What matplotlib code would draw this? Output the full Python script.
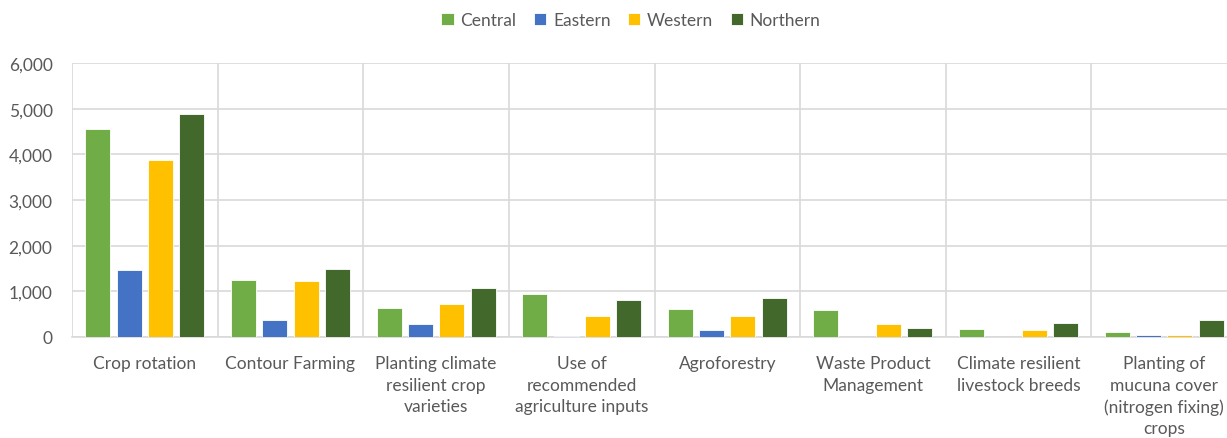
import numpy as np
import matplotlib.pyplot as plt
from matplotlib.ticker import FuncFormatter, MultipleLocator

# Data
categories = [
    "Crop rotation",
    "Contour Farming",
    "Planting climate\nresilient crop\nvarieties",
    "Use of\nrecommended\nagriculture inputs",
    "Agroforestry",
    "Waste Product\nManagement",
    "Climate resilient\nlivestock breeds",
    "Planting of\nmucuna cover\n(nitrogen fixing)\ncrops",
]
central = [4560, 1250, 640, 940, 610, 585, 180, 110]
eastern = [1470, 365, 285, 30, 145, 8, 6, 45]
western = [3880, 1220, 720, 455, 455, 285, 145, 45]
northern = [4880, 1480, 1070, 815, 855, 190, 300, 365]

series = [("Central", central, "#70ad47"),
          ("Eastern", eastern, "#4472c4"),
          ("Western", western, "#ffc000"),
          ("Northern", northern, "#43682b")]

plt.rcParams['font.family'] = ['Lato', 'DejaVu Sans']
text_col = "#595959"
grid_col = "#d9d9d9"

fig = plt.figure(figsize=(12.27, 4.39), dpi=100)
ax = fig.add_axes([72 / 1227, 101 / 439, 1165 / 1227, 274 / 439])

x = np.arange(len(categories))
step = 0.215
width = 0.172
for i, (name, vals, col) in enumerate(series):
    ax.bar(x + (i - 1.5) * step, vals, width, color=col, label=name,
           edgecolor="white", linewidth=0.6, zorder=3)

ax.set_xlim(-0.5, len(categories) - 0.5)
ax.set_ylim(0, 6000)
ax.yaxis.set_major_locator(MultipleLocator(1000))
ax.yaxis.set_major_formatter(FuncFormatter(lambda v, p: f"{int(v):,}"))

ax.set_xticks(x)
ax.set_xticklabels(categories, linespacing=1.42)
ax.set_xticks(np.arange(len(categories) + 1) - 0.5, minor=True)
ax.tick_params(axis="x", which="both", length=0, pad=13, labelsize=12.5, labelcolor=text_col)
ax.tick_params(axis="y", length=0, pad=14, labelsize=12.5, labelcolor=text_col)
for lab in ax.get_xticklabels():
    lab.set_verticalalignment("top")

ax.grid(axis="y", which="major", color=grid_col, linewidth=1.2, zorder=0)
ax.grid(axis="x", which="minor", color=grid_col, linewidth=1.2, zorder=0)
ax.grid(axis="x", which="major", visible=False)
for s in ["top", "right", "left"]:
    ax.spines[s].set_visible(False)
ax.spines["bottom"].set_color(grid_col)
ax.spines["bottom"].set_linewidth(1.2)

fig.legend(loc="center", bbox_to_anchor=(631 / 1227, 1 - 21 / 439), ncol=4,
           frameon=False, fontsize=12.5, labelcolor=text_col,
           handlelength=0.7, handleheight=0.7, handletextpad=0.4, columnspacing=1.0)

fig.savefig("out.png", dpi=100)
